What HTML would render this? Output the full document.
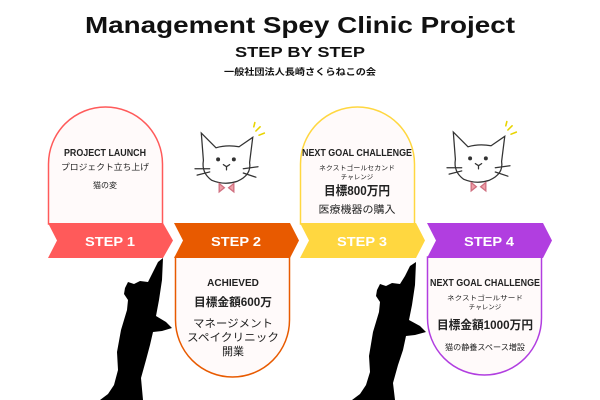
<!DOCTYPE html>
<html><head><meta charset="utf-8"><style>
html,body{margin:0;padding:0;background:#fff}
svg{display:block}
text{font-family:"Liberation Sans","Noto Sans CJK JP",sans-serif}
.b{font-weight:bold}
</style></head><body>
<svg width="600" height="400" viewBox="0 0 600 400" xmlns="http://www.w3.org/2000/svg">
<rect width="600" height="400" fill="#fff"/>
<text x="300" y="33" text-anchor="middle" font-size="23" class="b" textLength="430" lengthAdjust="spacingAndGlyphs" fill="#111">Management Spey Clinic Project</text>
<text x="300" y="57" text-anchor="middle" font-size="15" class="b" textLength="130" lengthAdjust="spacingAndGlyphs" fill="#111">STEP BY STEP</text>
<text x="300" y="75" text-anchor="middle" font-size="9" class="b" textLength="152" lengthAdjust="spacingAndGlyphs" fill="#111">一般社団法人長崎さくらねこの会</text>

<path d="M48.5,224 V164 A57,57 0 0 1 162.5,164 V224 Z" fill="#fffafa" stroke="#ff5a5a" stroke-width="1.5"/>
<path d="M300.5,224 V164 A57,57 0 0 1 414.5,164 V224 Z" fill="#fffafa" stroke="#ffd740" stroke-width="1.5"/>
<path d="M175.5,257 V320 A57,57 0 0 0 289.5,320 V257 Z" fill="#fffafa" stroke="#e85a00" stroke-width="1.5"/>
<path d="M427.5,257 V318 A57,57 0 0 0 541.5,318 V257 Z" fill="#fffafa" stroke="#b13ee0" stroke-width="1.5"/>

<polygon points="48,223 163,223 173,240.5 163,258 48,258 57,240.5" fill="#ff5a5a"/>
<polygon points="174,223 290,223 299,240.5 290,258 174,258 183,240.5" fill="#e85a00"/>
<polygon points="300,223 416,223 425,240.5 416,258 300,258 309,240.5" fill="#ffd740"/>
<polygon points="427,223 543,223 552,240.5 543,258 427,258 436,240.5" fill="#b13ee0"/>
<g font-size="13" class="b" fill="#fff" text-anchor="middle">
<text x="110" y="246" textLength="50" lengthAdjust="spacingAndGlyphs">STEP 1</text>
<text x="236" y="246" textLength="50" lengthAdjust="spacingAndGlyphs">STEP 2</text>
<text x="362" y="246" textLength="50" lengthAdjust="spacingAndGlyphs">STEP 3</text>
<text x="489" y="246" textLength="50" lengthAdjust="spacingAndGlyphs">STEP 4</text>
</g>

<g text-anchor="middle" fill="#222">
<text x="105" y="156" font-size="10" class="b" textLength="82" lengthAdjust="spacingAndGlyphs">PROJECT LAUNCH</text>
<text x="105" y="170" font-size="8.5" textLength="88" lengthAdjust="spacingAndGlyphs">プロジェクト立ち上げ</text>
<text x="105" y="188" font-size="8">猫の変</text>

<text x="233" y="286" font-size="10" class="b">ACHIEVED</text>
<text x="233" y="306" font-size="11.5" class="b" textLength="78" lengthAdjust="spacingAndGlyphs">目標金額600万</text>
<text x="233" y="327" font-size="11" textLength="80" lengthAdjust="spacingAndGlyphs">マネージメント</text>
<text x="233" y="341" font-size="11" textLength="92" lengthAdjust="spacingAndGlyphs">スペイクリニック</text>
<text x="233" y="355" font-size="11">開業</text>

<text x="357" y="156" font-size="10" class="b" textLength="110" lengthAdjust="spacingAndGlyphs">NEXT GOAL CHALLENGE</text>
<text x="357" y="170" font-size="6.5" textLength="76" lengthAdjust="spacingAndGlyphs">ネクストゴールセカンド</text>
<text x="357" y="179" font-size="6.5">チャレンジ</text>
<text x="357" y="195" font-size="12.5" class="b" textLength="66" lengthAdjust="spacingAndGlyphs">目標800万円</text>
<text x="357" y="213" font-size="10" textLength="77" lengthAdjust="spacingAndGlyphs">医療機器の購入</text>

<text x="485" y="286" font-size="10" class="b" textLength="110" lengthAdjust="spacingAndGlyphs">NEXT GOAL CHALLENGE</text>
<text x="485" y="300" font-size="6.5" textLength="76" lengthAdjust="spacingAndGlyphs">ネクストゴールサード</text>
<text x="485" y="309" font-size="6.5">チャレンジ</text>
<text x="485" y="329" font-size="12" class="b" textLength="96" lengthAdjust="spacingAndGlyphs">目標金額1000万円</text>
<text x="485" y="350" font-size="8" textLength="80" lengthAdjust="spacingAndGlyphs">猫の静養スペース増設</text>
</g>

<defs>
<g id="face" fill="none" stroke="#333" stroke-width="1.2" stroke-linecap="round">
<path d="M6,2 L20,16 Q30,13 42,15 L55,6 L52,30 Q54,42 40,48 Q28,52 16,47 Q6,40 8,28 Z" fill="#fff"/>
<circle cx="22" cy="27" r="1.3" fill="#333"/><circle cx="37" cy="27" r="1.3" fill="#333"/>
<path d="M27,32 l3,2 l3,-2 M30,34 v3"/>
<path d="M0,36 L14,36 M2,42 L14,39 M46,36 L60,34 M46,40 L58,44"/>
<path d="M23,50 L28,54 L23,58 Z M37,50 L32,54 L37,58 Z" fill="#f0a0a8" stroke="#d07080"/>
<path d="M58,0 l4,-4 M61,4 l5,-2 M56,-4 l1,-4" stroke="#e8d400" stroke-width="1.5"/>
</g>
</defs>
<use href="#face" transform="translate(195,131) scale(1.05)"/>
<use href="#face" transform="translate(447,130) scale(1.05)"/>

<path d="M158,262 L163,258 L162,280 L159,300 L156,316 L166,322 L172,328 L162,331 L153,332 L150,345 L146,360 L141,378 L143,400 L100,400 L108,394 L114,385 L118,370 L117,352 L121,330 L127,310 L128,300 L124,294 L125,288 L128,282 L134,284 L140,281 L148,282 L153,272 Z" fill="#000"/>
<path d="M410,266 L416,262 L415,285 L412,305 L409,320 L420,326 L426,332 L415,335 L406,336 L403,350 L398,365 L393,383 L395,400 L352,400 L360,394 L366,385 L370,372 L369,356 L373,332 L379,312 L380,302 L376,296 L377,290 L380,284 L386,286 L392,283 L400,284 L405,276 Z" fill="#000"/>
</svg>
</body></html>
